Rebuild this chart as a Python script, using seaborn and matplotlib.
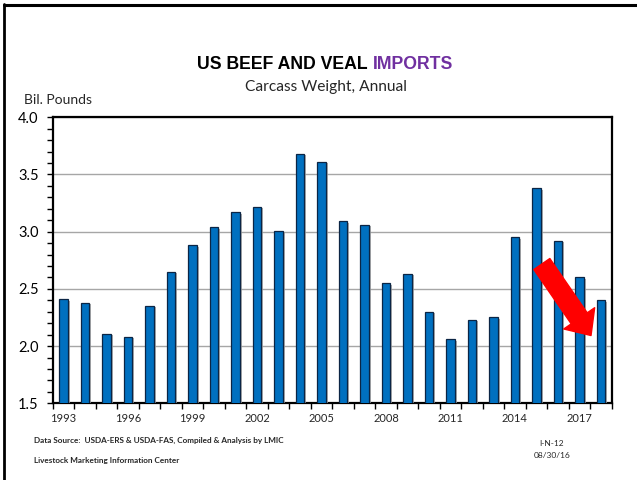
import matplotlib
matplotlib.use("Agg")
import matplotlib.pyplot as plt
import matplotlib.patheffects as pe
from matplotlib.lines import Line2D
from matplotlib.ticker import MultipleLocator, FixedLocator, NullFormatter
import seaborn as sns
import pandas as pd

years = [1993, 1994, 1995, 1996, 1997, 1998, 1999, 2000, 2001, 2002, 2003, 2004, 2005,
         2006, 2007, 2008, 2009, 2010, 2011, 2012, 2013, 2014, 2015, 2016, 2017, 2018]
imports = [2.41, 2.38, 2.11, 2.08, 2.35, 2.65, 2.88, 3.04, 3.17, 3.22, 3.01, 3.68, 3.61,
           3.09, 3.06, 2.55, 2.63, 2.30, 2.06, 2.23, 2.25, 2.95, 3.38, 2.92, 2.60, 2.40]
tick_labels = ["1993", "1996", "1999", "2002", "2005", "2008", "2011", "2014", "2017"]

df = pd.DataFrame({"year": [str(y) for y in years], "imports": imports})

sns.set_style("white")
plt.rcParams["font.family"] = ["Liberation Sans", "DejaVu Sans"]

fig = plt.figure(figsize=(6.37, 4.8), dpi=100)
ax = fig.add_axes([52.7 / 637, 1 - 403.3 / 480, 559 / 637, 286 / 480])

sns.barplot(data=df, x="year", y="imports", color="#0070C0", width=0.39,
            saturation=1, edgecolor="#0B2545", linewidth=0.9, ax=ax, zorder=3)
for p in ax.patches:
    p.set_path_effects([pe.SimplePatchShadow(offset=(1.5, -1), shadow_rgbFace="#9a9a9a", alpha=0.8),
                        pe.Normal()])

ax.set_xlim(-0.5, len(years) - 0.5)
ax.set_ylim(1.5, 4.0)

# y axis
ax.yaxis.set_major_locator(MultipleLocator(0.5))
ax.yaxis.set_minor_locator(MultipleLocator(0.1))
ax.yaxis.set_major_formatter(matplotlib.ticker.FormatStrFormatter("%.1f"))
ax.tick_params(axis="y", which="both", direction="out", left=True, length=4, width=1,
               colors="black", labelsize=10.5, pad=6)
ax.grid(axis="y", which="major", color="#A6A6A6", linewidth=1, zorder=0)
ax.set_axisbelow(True)

# x axis: ticks at slot boundaries, labels every third year
ax.xaxis.set_major_locator(FixedLocator([i - 0.5 for i in range(len(years) + 1)]))
ax.xaxis.set_major_formatter(NullFormatter())
ax.tick_params(axis="x", which="major", direction="out", bottom=True, length=4, width=1, colors="black")
for lab in tick_labels:
    i = years.index(int(lab))
    ax.text(i, -0.035, lab, transform=ax.get_xaxis_transform(), ha="center", va="top",
            fontsize=8, family=["Lato", "DejaVu Sans"])

for s in ax.spines.values():
    s.set_visible(True)
    s.set_color("black")
    s.set_linewidth(1.6)
ax.set_xlabel("")
ax.set_ylabel("")

for lab in ax.get_yticklabels():
    lab.set_family(["Lato", "DejaVu Sans"])

# titles
title_y = 1 - 64.5 / 480
t1 = fig.text(0.5, title_y, "US BEEF AND VEAL ", ha="right", va="center",
              fontsize=12.7, fontweight="bold", color="black")
t2 = fig.text(0.5, title_y, "IMPORTS", ha="left", va="center",
              fontsize=12.7, fontweight="bold", color="#7030A0")
fig.canvas.draw()
renderer = fig.canvas.get_renderer()
bb1 = t1.get_window_extent(renderer)
bb2 = t2.get_window_extent(renderer)
total = bb1.width + bb2.width
start = 325 - total / 2
t1.set_position(((start + bb1.width) / 637, title_y))
t2.set_position(((start + bb1.width) / 637, title_y))

fig.text(325.5 / 637, 1 - 87 / 480, "Carcass Weight, Annual", ha="center", va="center",
         fontsize=11.2, family=["Lato", "DejaVu Sans"])
fig.text(24 / 637, 1 - 100 / 480, "Bil. Pounds", ha="left", va="center",
         fontsize=10, family=["Lato", "DejaVu Sans"])

# footer
fig.text(34 / 637, 1 - 440 / 480, "Data Source:  USDA-ERS & USDA-FAS, Compiled & Analysis by LMIC",
         ha="left", va="center", fontsize=5.85, fontweight="bold", family=["Lato", "DejaVu Sans"])
fig.text(34 / 637, 1 - 461 / 480, "Livestock Marketing Information Center",
         ha="left", va="center", fontsize=5.85, fontweight="bold", family=["Lato", "DejaVu Sans"])
fig.text(552 / 637, 1 - 443 / 480, "I-N-12", ha="center", va="center", fontsize=6,
         family=["Lato", "DejaVu Sans"])
fig.text(552 / 637, 1 - 455 / 480, "08/30/16", ha="center", va="center", fontsize=6,
         family=["Lato", "DejaVu Sans"])

# red arrow annotation
ax.annotate("", xy=(0.963, 0.237), xycoords="axes fraction",
            xytext=(0.875, 0.487), textcoords="axes fraction",
            arrowprops=dict(arrowstyle="simple,head_length=1.5,head_width=2.7,tail_width=1.4",
                            mutation_scale=10, facecolor="#FF0000", edgecolor="#FF0000",
                            shrinkA=0, shrinkB=0),
            zorder=5)

# slide frame (left and top edges)
fig.add_artist(Line2D([4 / 637, 4 / 637], [0, 1 - 4 / 480], color="black", linewidth=2,
                      transform=fig.transFigure))
fig.add_artist(Line2D([4 / 637, 1], [1 - 4.5 / 480, 1 - 4.5 / 480], color="black", linewidth=2.2,
                      transform=fig.transFigure))

fig.savefig("out.png", dpi=100)
